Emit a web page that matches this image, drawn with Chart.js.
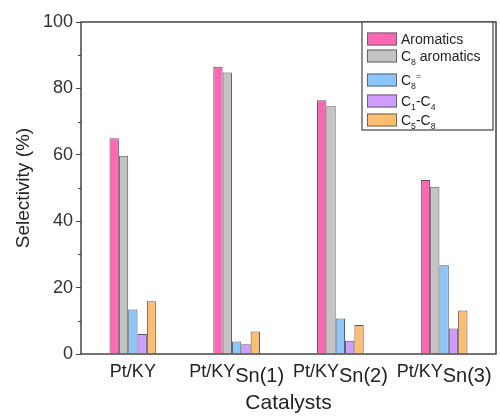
<!DOCTYPE html>
<html>
<head>
<meta charset="utf-8">
<script src="https://cdn.jsdelivr.net/npm/chart.js@4"></script>
<style>
  body { margin: 0; background: #fff; }
  #wrap { width: 500px; height: 416px; }
</style>
</head>
<body>
<div id="wrap"><canvas id="selChart" width="500" height="416"></canvas></div>
<script>
const catalysts = ['Pt/KY', 'Pt/KYSn(1)', 'Pt/KYSn(2)', 'Pt/KYSn(3)'];
const seriesNames = ['Aromatics', 'C_8 aromatics', 'C_8^=', 'C_1-C_4', 'C_5-C_8'];
const aromatics = [65, 86.5, 76.4, 52.4];
const c8Aromatics = [59.7, 84.8, 74.6, 50.4];
const c8Olefin = [13.4, 3.8, 10.7, 26.7];
const c1c4 = [6, 2.9, 4, 7.7];
const c5c8 = [15.9, 6.8, 8.7, 13.1];
const yTicks = [0, 20, 40, 60, 80, 100];

const colors = ['#ff66b3', '#c4c4c4', '#8cc6ff', '#cf9cff', '#ffbd6e'];
const allValues = [aromatics, c8Aromatics, c8Olefin, c1c4, c5c8];

// draws "C_8^=" style text with sub/superscripts, returns width
function richText(ctx, str, x, y, size) {
    let cx = x;
    let i = 0;
    while (i < str.length) {
        let ch = str[i];
        let fs = size, dy = 0;
        if ((ch === '_' || ch === '^') && i + 1 < str.length) {
            fs = size * 0.62;
            dy = ch === '_' ? size * 0.32 : -size * 0.45;
            i++;
            ch = str[i];
        }
        ctx.font = fs + 'px Arial, "Liberation Sans", sans-serif';
        ctx.fillText(ch, cx, y + dy);
        cx += ctx.measureText(ch).width;
        i++;
    }
    return cx - x;
}

const extras = {
    id: 'extras',
    afterDraw(chart) {
        const ctx = chart.ctx;
        const a = chart.chartArea;
        const ys = chart.scales.y;
        const xs = chart.scales.x;
        ctx.save();
        // frame
        ctx.strokeStyle = '#444';
        ctx.lineWidth = 1.5;
        ctx.strokeRect(a.left, a.top, a.right - a.left, a.bottom - a.top);
        // minor ticks
        ctx.lineWidth = 1;
        for (let v = 10; v < 100; v += 20) {
            const py = Math.round(ys.getPixelForValue(v)) + 0.5;
            ctx.beginPath();
            ctx.moveTo(a.left - 3, py);
            ctx.lineTo(a.left, py);
            ctx.stroke();
        }
        // category labels
        ctx.fillStyle = '#222';
        ctx.textBaseline = 'alphabetic';
        ctx.textAlign = 'left';
        catalysts.forEach((name, i) => {
            const cx = xs.getPixelForTick(i);
            const k = name.indexOf('Sn');
            const pre = k >= 0 ? name.slice(0, k) : name;
            const suf = k >= 0 ? name.slice(k) : '';
            ctx.font = '18px Arial, "Liberation Sans", sans-serif';
            const w1 = ctx.measureText(pre).width;
            ctx.font = '20px Arial, "Liberation Sans", sans-serif';
            const w2 = suf ? ctx.measureText(suf).width : 0;
            let sx = cx - (w1 + w2) / 2;
            ctx.font = '18px Arial, "Liberation Sans", sans-serif';
            ctx.fillText(pre, sx, 377);
            if (suf) {
                ctx.font = '20px Arial, "Liberation Sans", sans-serif';
                ctx.fillText(suf, sx + w1, 382);
            }
        });
        // legend
        const lx = 362, ly = 22, lw = 131, lh = 108;
        ctx.fillStyle = '#fff';
        ctx.fillRect(lx, ly, lw, lh);
        ctx.strokeStyle = '#444';
        ctx.lineWidth = 1.2;
        ctx.strokeRect(lx, ly, lw, lh);
        const rows = [39, 56, 80, 101, 120];
        seriesNames.forEach((name, i) => {
            ctx.fillStyle = colors[i];
            ctx.fillRect(367, rows[i] - 6.5, 30, 13);
            ctx.strokeStyle = '#666';
            ctx.lineWidth = 1;
            ctx.strokeRect(367.5, rows[i] - 6, 29, 12);
            ctx.fillStyle = '#222';
            richText(ctx, name, 401, rows[i] + 5, 14);
        });
        ctx.restore();
    }
};

const datasets = allValues.map((vals, i) => ({
    label: seriesNames[i],
    data: vals,
    backgroundColor: colors[i],
    borderColor: '#555',
    borderWidth: 1,
    categoryPercentage: 0.45,
    barPercentage: 1.0
}));

new Chart(document.getElementById('selChart').getContext('2d'), {
    type: 'bar',
    data: { labels: catalysts, datasets: datasets },
    options: {
        responsive: false,
        animation: false,
        layout: { padding: { top: 22, right: 4, left: 0, bottom: 0 } },
        plugins: { legend: { display: false }, tooltip: { enabled: false } },
        scales: {
            x: {
                grid: { display: false },
                border: { display: false },
                ticks: { display: false },
                afterFit: s => { s.height = 62; },
                title: {
                    display: true,
                    text: 'Catalysts',
                    color: '#222',
                    font: { size: 21, family: 'Arial, "Liberation Sans", sans-serif' },
                    padding: { top: 0, bottom: 0 }
                }
            },
            y: {
                min: 0,
                max: 100,
                afterBuildTicks: s => { s.ticks = yTicks.map(v => ({ value: v })); },
                ticks: {
                    color: '#333',
                    padding: 3,
                    font: { size: 18, family: 'Arial, "Liberation Sans", sans-serif' }
                },
                grid: { drawOnChartArea: false, tickLength: 5, tickColor: '#444', tickWidth: 1 },
                border: { display: false },
                afterFit: s => { s.width = 81; },
                title: {
                    display: true,
                    text: 'Selectivity (%)',
                    color: '#222',
                    font: { size: 19, family: 'Arial, "Liberation Sans", sans-serif' },
                    padding: { top: 12, bottom: 0 }
                }
            }
        }
    },
    plugins: [extras]
});
</script>
</body>
</html>
